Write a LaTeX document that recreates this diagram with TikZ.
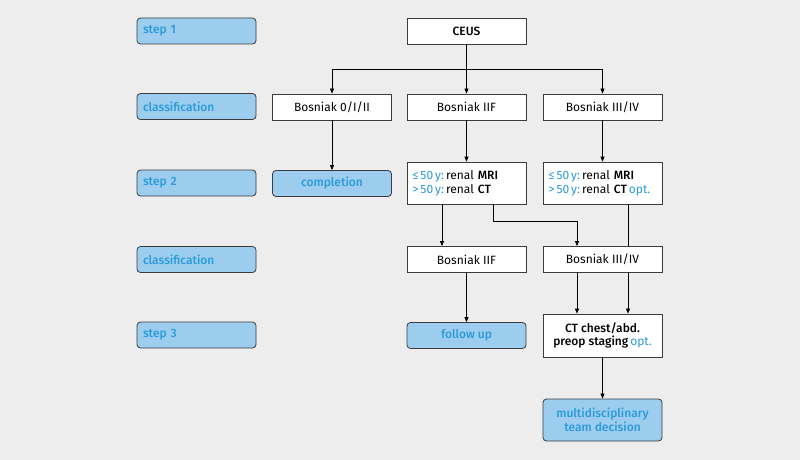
\documentclass[tikz,border=0pt]{standalone}
\usepackage{fontspec}
\setmainfont{Fira Sans}
\newfontfamily\med{Fira Sans Medium}
\usetikzlibrary{arrows.meta,calc}
\definecolor{bg}{HTML}{EDEDEE}
\definecolor{bfill}{HTML}{9CCDEF}
\definecolor{btext}{HTML}{2A9BD8}
\definecolor{edge}{HTML}{3C3C3C}
\newcommand{\bl}[1]{\textcolor{btext}{#1}}
\tikzset{
  lbl/.style={draw=edge, line width=0.8pt, fill=bfill, rounded corners=3.5pt, text=btext,
    minimum height=26pt, text width=107pt, align=left, inner xsep=6pt, inner ysep=0pt, font=\fontsize{12}{13.5}\selectfont\med},
  wbox/.style={draw=edge, line width=0.8pt, fill=white, minimum width=119pt, minimum height=26pt,
    inner sep=0pt, align=center, font=\fontsize{12}{13.5}\selectfont},
  bbox/.style={wbox, fill=bfill, rounded corners=3.5pt, text=btext, font=\fontsize{12}{13.5}\selectfont\med},
  tbox/.style={wbox, minimum height=42pt, text width=108pt, align=left, font=\fontsize{12}{14}\selectfont},
  arr/.style={draw=black, line width=0.7pt, -{Triangle[length=5pt,width=4pt]}},
  ln/.style={draw=black, line width=0.7pt},
}
\begin{document}
\begin{tikzpicture}[x=1pt,y=-1pt]
\fill[bg] (0,0) rectangle (800,460);
\useasboundingbox (0,0) rectangle (800,460);
% left labels
\node[lbl] (s1) at (196.5,31) {step 1};
\node[lbl] (c1) at (196.5,106.5) {classification};
\node[lbl] (s2) at (196.5,183) {step 2};
\node[lbl] (c2) at (196.5,259.5) {classification};
\node[lbl] (s3) at (196.5,335) {step 3};
% main
\node[wbox, font=\fontsize{12}{13.5}\selectfont\med] (ceus) at (466.5,31) {CEUS};
\node[wbox] (b1) at (332,107) {Bosniak 0/I/II};
\node[wbox] (b2) at (466.5,107) {Bosniak IIF};
\node[wbox] (b3) at (602.5,107) {Bosniak III/IV};
\node[bbox] (compl) at (332,183.5) {completion};
\node[tbox] (mri1) at (466.5,183) {\bl{≤\,50\,y:}\,renal {\med MRI}\\\bl{>\,50\,y:}\,renal {\med CT}};
\node[tbox] (mri2) at (602.5,183) {\bl{≤\,50\,y:}\,renal {\med MRI}\\\bl{>\,50\,y:}\,renal {\med CT}\,\bl{opt.}};
\node[wbox] (iif4) at (466.5,259.5) {Bosniak IIF};
\node[wbox] (iv4) at (602.5,259.5) {Bosniak III/IV};
\node[bbox] (fu) at (466.5,335.5) {follow up};
\node[wbox, minimum height=43pt, font=\fontsize{12}{13.5}\selectfont\med] (ct) at (602.5,335.5) {CT chest/abd.\\preop staging\,\bl{\normalfont opt.}};
\node[bbox, minimum height=42pt] (mdt) at (602.5,420) {multidisciplinary\\team decision};
% connectors
\coordinate (j1) at (332,69);
\coordinate (j3) at (602.5,69);
\draw[arr] (ceus) -- (b2);
\draw[ln] (j1) -- (j3);
\draw[arr] (j1) -- (b1);
\draw[arr] (j3) -- (b3);
\draw[arr] (b1) -- (compl);
\draw[arr] (b2) -- (mri1);
\draw[arr] (b3) -- (mri2);
\draw[arr] ($(mri1.south)+(-24.5,0)$) -- ($(iif4.north)+(-24.5,0)$);
\draw[arr] ($(mri1.south)+(26.5,0)$) -- ++(0,17) -| ($(iv4.north)+(-25.5,0)$);
\draw[ln] ($(mri2.south)+(25.5,0)$) -- ($(iv4.north)+(25.5,0)$);
\draw[arr] ($(iv4.south)+(-25.5,0)$) -- ($(ct.north)+(-25.5,0)$);
\draw[arr] ($(iv4.south)+(25.5,0)$) -- ($(ct.north)+(25.5,0)$);
\draw[arr] (iif4) -- (fu);
\draw[arr] (ct) -- (mdt);
\end{tikzpicture}
\end{document}
